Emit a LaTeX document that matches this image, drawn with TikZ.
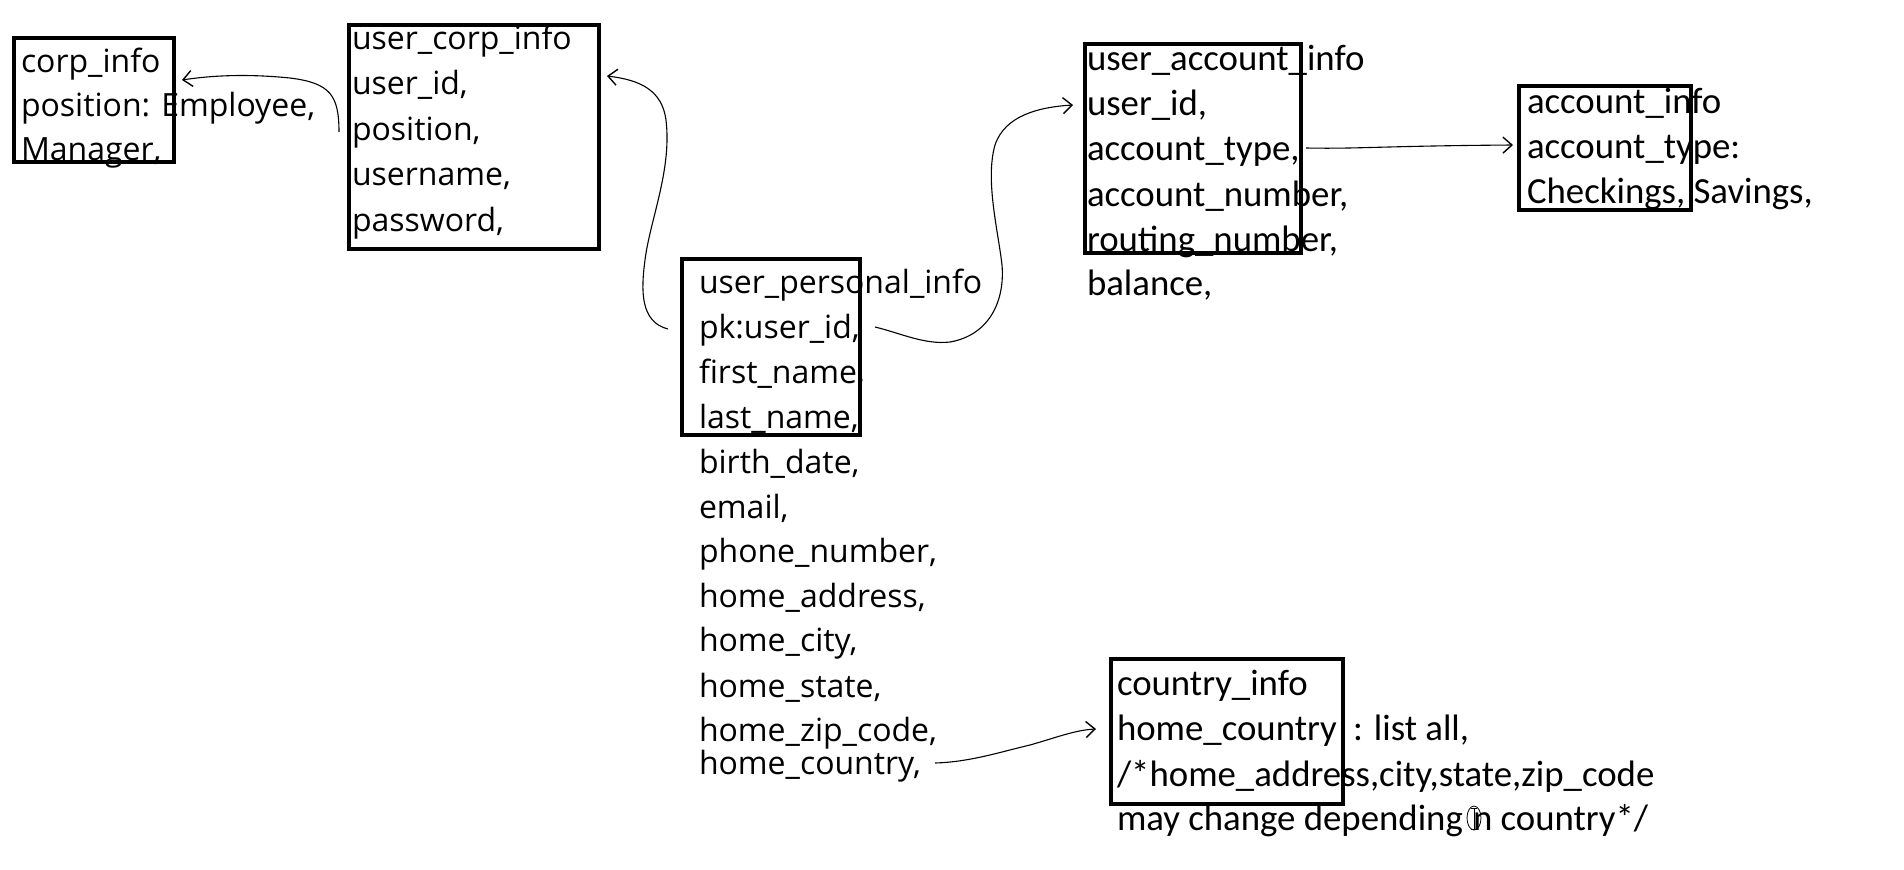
\documentclass[tikz,border=0pt]{standalone}
\usepackage{fontspec}
\newfontfamily\segfont{Open Sans}
\newfontfamily\calfont{Carlito}
\usetikzlibrary{arrows.meta}
\begin{document}
\begin{tikzpicture}[x=1pt,y=-1pt,
  ln/.style={anchor=base west, inner sep=0pt, outer sep=0pt},
  seg/.style={ln, font=\segfont\fontsize{32}{38}\selectfont},
  cal/.style={ln, font=\calfont\fontsize{36.8}{44}\selectfont},
  tbl/.style={draw, line width=4.4pt, inner sep=0pt, anchor=north west},
  conn/.style={line width=1.1pt, -{Straight Barb[length=9pt,width=16pt,line width=1.4pt]}}]
\useasboundingbox[fill=white] (0,0) rectangle (1904,870);

% boxes
\node[tbl, minimum width=160pt, minimum height=124pt] (corpbox) at (12,36) {};
\node[tbl, minimum width=250pt, minimum height=224pt] (ucorpbox) at (347,23) {};
\node[tbl, minimum width=178pt, minimum height=176pt] (persbox) at (680,257) {};
\node[tbl, minimum width=216pt, minimum height=209pt] (accbox) at (1083,42) {};
\node[tbl, minimum width=172pt, minimum height=124pt] (ainfobox) at (1517,84) {};
\node[tbl, minimum width=232pt, minimum height=145pt] (ctrybox) at (1109,657) {};

% corp_info
\node[seg] (c1) at (21,72) {corp\_info};
\node[seg] (c2) at (21,116) {position: Employee,};
\node[seg] (c3) at (21,160) {Manager,};

% user_corp_info
\node[seg] (u1) at (352,49) {user\_corp\_info};
\node[seg] (u2) at (352,94.5) {user\_id,};
\node[seg] (u3) at (352,140) {position,};
\node[seg] (u4) at (352,185.5) {username,};
\node[seg] (u5) at (352,231) {password,};

% user_personal_info
\node[seg] (p1) at (699,293) {user\_personal\_info};
\node[seg] (p2) at (699,338) {pk:user\_id,};
\node[seg] (p3) at (699,383) {first\_name,};
\node[seg] (p4) at (699,428) {last\_name,};
\node[seg] (p5) at (699,473) {birth\_date,};
\node[seg] (p6) at (699,518) {email,};
\node[seg] (p7) at (699,562) {phone\_number,};
\node[seg] (p8) at (699,607) {home\_address,};
\node[seg] (p9) at (699,651) {home\_city,};
\node[seg] (p10) at (699,697) {home\_state,};
\node[seg] (p11) at (699,741) {home\_zip\_code,};
\node[seg] (p12) at (699,774) {home\_country,};

% user_account_info
\node[cal] (a1) at (1087,70.5) {user\_account\_info};
\node[cal] (a2) at (1087,115.5) {user\_id,};
\node[cal] (a3) at (1087,160.5) {account\_type,};
\node[cal] (a4) at (1087,206.5) {account\_number,};
\node[cal] (a5) at (1087,251.5) {routing\_number,};
\node[cal] (a6) at (1087,295.5) {balance,};

% account_info
\node[cal] (i1) at (1527,113) {account\_info};
\node[cal] (i2) at (1527,158) {account\_type:};
\node[cal] (i3) at (1527,203) {Checkings, Savings,};

% country_info
\node[cal] (k1) at (1117,695) {country\_info};
\node[cal] (k2) at (1117,740) {home\_country};
\node[cal] (k2b) at (1353,740) {: list all,};
\node[cal] (k3) at (1117,786) {/*home\_address,city,state,zip\_code};
\node[cal] (k4) at (1117,830) {may change depending};
\node[cal] (k4b) at (1473,830) {n country*/};

% cursor mark
\draw[line width=0.8pt] (1474,818) ellipse [x radius=7pt, y radius=12pt];
\draw[line width=0.8pt] (1471,808) -- (1477,808) (1474,808) -- (1474,829) (1471,829) -- (1477,829);

% connector end points
\coordinate (s1) at (339,132);
\coordinate (t1) at (182,80);
\coordinate (s2) at (668,329);
\coordinate (t2) at (607,76);
\coordinate (s3) at (875,327);
\coordinate (t3) at (1073,105);
\coordinate (s4) at (1306,148);
\coordinate (t4) at (1513,145);
\coordinate (s5) at (935,763);
\coordinate (t5) at (1096,729);

\draw[conn] (s1) .. controls (339,95) and (330,83) .. (290,78)
   .. controls (250,74) and (215,75) .. (t1);
\draw[conn] (s2) .. controls (640,322) and (641,290) .. (645,260)
   .. controls (650,220) and (672,170) .. (666,120)
   .. controls (662,90) and (640,80) .. (t2);
\draw[conn] (s3) .. controls (900,333) and (925,345) .. (950,342)
   .. controls (990,335) and (1005,300) .. (1002,265)
   .. controls (998,230) and (985,180) .. (995,145)
   .. controls (1005,115) and (1040,107) .. (t3);
\draw[conn] (s4) .. controls (1360,149) and (1380,146) .. (t4);
\draw[conn] (s5) .. controls (970,762) and (1000,752) .. (1030,745)
   .. controls (1055,738) and (1075,730) .. (t5);
\end{tikzpicture}
\end{document}
